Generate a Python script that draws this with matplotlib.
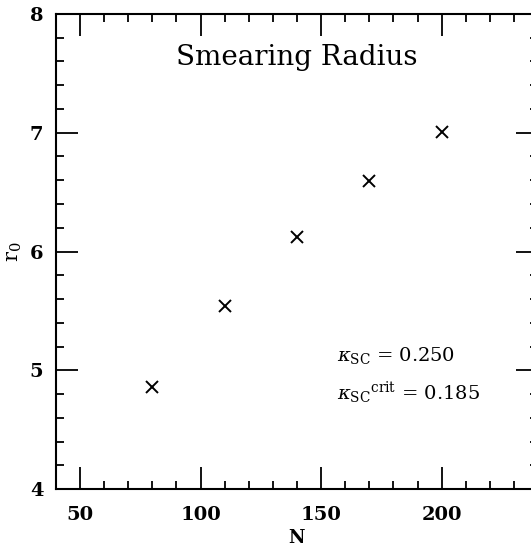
import matplotlib
matplotlib.use("Agg")
import matplotlib.pyplot as plt
from matplotlib.ticker import MultipleLocator

# smearing radius vs N
n_values = [80, 110, 140, 170, 200]
r0_values = [4.86, 5.54, 6.12, 6.59, 7.01]

kappa_sc = "0.250"
kappa_crit = "0.185"

plt.rcParams["font.family"] = "DejaVu Serif"
plt.rcParams["mathtext.fontset"] = "dejavuserif"


def main():
    fig = plt.figure(figsize=(5.31, 5.53), dpi=100)
    ax = fig.add_axes([0.1053, 0.1157, 0.908, 0.859])

    ax.plot(n_values, r0_values, linestyle="none", marker="x",
            markersize=9, markeredgewidth=1.4, color="black")

    ax.set_xlim(40, 240)
    ax.set_ylim(4, 8)
    ax.xaxis.set_major_locator(MultipleLocator(50))
    ax.xaxis.set_minor_locator(MultipleLocator(10))
    ax.yaxis.set_major_locator(MultipleLocator(1))
    ax.yaxis.set_minor_locator(MultipleLocator(0.2))
    ax.tick_params(which="both", direction="in", top=True, right=True,
                   width=1.3, labelsize=14)
    ax.tick_params(which="major", length=16, pad=9)
    ax.tick_params(axis="x", which="major", pad=12)
    ax.tick_params(which="minor", length=6)
    for lab in ax.get_xticklabels() + ax.get_yticklabels():
        lab.set_fontweight("bold")
    for s in ax.spines.values():
        s.set_linewidth(1.5)

    ax.set_xlabel("N", fontsize=13, fontweight="bold", labelpad=4)
    ax.set_ylabel(r"r$_0$", fontsize=15, labelpad=4)

    ax.text(0.5, 0.909, "Smearing Radius", transform=ax.transAxes,
            ha="center", va="center", fontsize=20)
    ax.text(0.583, 0.282, r"$\kappa_{\rm SC}$ = " + kappa_sc,
            transform=ax.transAxes, ha="left", va="center", fontsize=14)
    ax.text(0.583, 0.202, r"$\kappa_{\rm SC}{}^{\rm crit}$ = " + kappa_crit,
            transform=ax.transAxes, ha="left", va="center", fontsize=14)

    fig.savefig("out.png", dpi=100)


if __name__ == "__main__":
    main()
